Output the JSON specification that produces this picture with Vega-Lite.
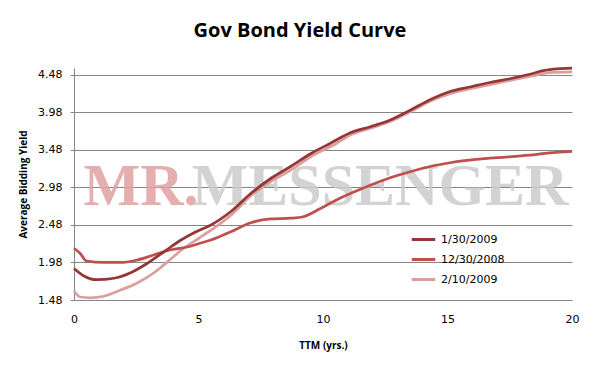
{
  "$schema": "https://vega.github.io/schema/vega-lite/v6.json",
  "width": 498,
  "height": 232,
  "autosize": {"type": "none"},
  "padding": {"left": 74, "top": 68, "right": 27, "bottom": 75},
  "background": "white",
  "config": {"view": {"stroke": null}},
  "title": {"text": "Gov Bond Yield Curve", "font": "Open Sans", "fontSize": 20, "fontWeight": "bold", "color": "black", "anchor": "middle", "dx": -23, "offset": 22},
  "datasets": {
    "watermark": [
      {"label": "MR.", "ttm": 2.69, "yield": 2.747},
      {"label": "MESSENGER", "ttm": 12.29, "yield": 2.747}
    ],
    "curves": [
      {"series": "2/10/2009", "ttm": 0, "yield": 1.60},
      {"series": "2/10/2009", "ttm": 0.25, "yield": 1.52},
      {"series": "2/10/2009", "ttm": 0.65, "yield": 1.51},
      {"series": "2/10/2009", "ttm": 1.2, "yield": 1.53},
      {"series": "2/10/2009", "ttm": 1.85, "yield": 1.61},
      {"series": "2/10/2009", "ttm": 2.5, "yield": 1.70},
      {"series": "2/10/2009", "ttm": 3.2, "yield": 1.84},
      {"series": "2/10/2009", "ttm": 3.9, "yield": 2.03},
      {"series": "2/10/2009", "ttm": 4.4, "yield": 2.17},
      {"series": "2/10/2009", "ttm": 5.0, "yield": 2.30},
      {"series": "2/10/2009", "ttm": 5.5, "yield": 2.41},
      {"series": "2/10/2009", "ttm": 6.3, "yield": 2.61},
      {"series": "2/10/2009", "ttm": 7.1, "yield": 2.87},
      {"series": "2/10/2009", "ttm": 7.9, "yield": 3.06},
      {"series": "2/10/2009", "ttm": 8.7, "yield": 3.21},
      {"series": "2/10/2009", "ttm": 9.5, "yield": 3.39},
      {"series": "2/10/2009", "ttm": 10.5, "yield": 3.56},
      {"series": "2/10/2009", "ttm": 11.1, "yield": 3.68},
      {"series": "2/10/2009", "ttm": 11.9, "yield": 3.77},
      {"series": "2/10/2009", "ttm": 12.7, "yield": 3.86},
      {"series": "2/10/2009", "ttm": 13.5, "yield": 3.99},
      {"series": "2/10/2009", "ttm": 14.3, "yield": 4.13},
      {"series": "2/10/2009", "ttm": 15.1, "yield": 4.23},
      {"series": "2/10/2009", "ttm": 16.7, "yield": 4.35},
      {"series": "2/10/2009", "ttm": 18.3, "yield": 4.46},
      {"series": "2/10/2009", "ttm": 19.1, "yield": 4.51},
      {"series": "2/10/2009", "ttm": 20, "yield": 4.52},
      {"series": "12/30/2008", "ttm": 0, "yield": 2.17},
      {"series": "12/30/2008", "ttm": 0.25, "yield": 2.10},
      {"series": "12/30/2008", "ttm": 0.5, "yield": 2.00},
      {"series": "12/30/2008", "ttm": 1.2, "yield": 1.98},
      {"series": "12/30/2008", "ttm": 1.85, "yield": 1.98},
      {"series": "12/30/2008", "ttm": 2.5, "yield": 2.01},
      {"series": "12/30/2008", "ttm": 3.2, "yield": 2.08},
      {"series": "12/30/2008", "ttm": 3.9, "yield": 2.15},
      {"series": "12/30/2008", "ttm": 4.6, "yield": 2.19},
      {"series": "12/30/2008", "ttm": 5.0, "yield": 2.23},
      {"series": "12/30/2008", "ttm": 5.5, "yield": 2.28},
      {"series": "12/30/2008", "ttm": 6.3, "yield": 2.39},
      {"series": "12/30/2008", "ttm": 7.1, "yield": 2.51},
      {"series": "12/30/2008", "ttm": 7.9, "yield": 2.56},
      {"series": "12/30/2008", "ttm": 8.7, "yield": 2.57},
      {"series": "12/30/2008", "ttm": 9.2, "yield": 2.59},
      {"series": "12/30/2008", "ttm": 9.9, "yield": 2.70},
      {"series": "12/30/2008", "ttm": 10.7, "yield": 2.84},
      {"series": "12/30/2008", "ttm": 11.6, "yield": 2.97},
      {"series": "12/30/2008", "ttm": 12.7, "yield": 3.11},
      {"series": "12/30/2008", "ttm": 13.5, "yield": 3.19},
      {"series": "12/30/2008", "ttm": 14.3, "yield": 3.26},
      {"series": "12/30/2008", "ttm": 15.1, "yield": 3.31},
      {"series": "12/30/2008", "ttm": 16.7, "yield": 3.37},
      {"series": "12/30/2008", "ttm": 18.3, "yield": 3.41},
      {"series": "12/30/2008", "ttm": 19.1, "yield": 3.44},
      {"series": "12/30/2008", "ttm": 20, "yield": 3.46},
      {"series": "1/30/2009", "ttm": 0, "yield": 1.90},
      {"series": "1/30/2009", "ttm": 0.4, "yield": 1.80},
      {"series": "1/30/2009", "ttm": 0.9, "yield": 1.75},
      {"series": "1/30/2009", "ttm": 1.6, "yield": 1.77},
      {"series": "1/30/2009", "ttm": 2.25, "yield": 1.84},
      {"series": "1/30/2009", "ttm": 2.9, "yield": 1.96},
      {"series": "1/30/2009", "ttm": 3.6, "yield": 2.12},
      {"series": "1/30/2009", "ttm": 4.25, "yield": 2.27},
      {"series": "1/30/2009", "ttm": 4.9, "yield": 2.39},
      {"series": "1/30/2009", "ttm": 5.5, "yield": 2.48},
      {"series": "1/30/2009", "ttm": 6.3, "yield": 2.66},
      {"series": "1/30/2009", "ttm": 7.1, "yield": 2.90},
      {"series": "1/30/2009", "ttm": 7.9, "yield": 3.10},
      {"series": "1/30/2009", "ttm": 8.7, "yield": 3.26},
      {"series": "1/30/2009", "ttm": 9.5, "yield": 3.43},
      {"series": "1/30/2009", "ttm": 10.3, "yield": 3.57},
      {"series": "1/30/2009", "ttm": 11.1, "yield": 3.71},
      {"series": "1/30/2009", "ttm": 11.9, "yield": 3.79},
      {"series": "1/30/2009", "ttm": 12.7, "yield": 3.88},
      {"series": "1/30/2009", "ttm": 13.5, "yield": 4.01},
      {"series": "1/30/2009", "ttm": 14.3, "yield": 4.15},
      {"series": "1/30/2009", "ttm": 15.1, "yield": 4.26},
      {"series": "1/30/2009", "ttm": 15.9, "yield": 4.32},
      {"series": "1/30/2009", "ttm": 16.7, "yield": 4.38},
      {"series": "1/30/2009", "ttm": 17.5, "yield": 4.43},
      {"series": "1/30/2009", "ttm": 18.3, "yield": 4.49},
      {"series": "1/30/2009", "ttm": 18.9, "yield": 4.54},
      {"series": "1/30/2009", "ttm": 19.4, "yield": 4.56},
      {"series": "1/30/2009", "ttm": 20, "yield": 4.57}
    ]
  },
  "encoding": {
    "x": {
      "field": "ttm", "type": "quantitative",
      "scale": {"domain": [0, 20], "nice": false, "zero": false},
      "axis": {
        "values": [0, 5, 10, 15, 20], "grid": false, "ticks": false, "labelFlush": false,
        "domainColor": "#868686", "labelFont": "DejaVu Sans", "labelFontSize": 11, "labelColor": "black", "labelPadding": 13,
        "title": "TTM (yrs.)", "titleFont": "Open Sans", "titleFontSize": 10, "titleFontWeight": "bold", "titleColor": "black", "titlePadding": 16
      }
    },
    "y": {
      "field": "yield", "type": "quantitative",
      "scale": {"domain": [1.48, 4.573], "nice": false, "zero": false},
      "axis": {
        "values": [1.48, 1.98, 2.48, 2.98, 3.48, 3.98, 4.48], "format": ".2f",
        "grid": true, "gridColor": "#868686", "gridWidth": 1,
        "domainColor": "#868686", "tickColor": "#868686", "tickSize": 4,
        "labelFont": "DejaVu Sans", "labelFontSize": 11, "labelColor": "black", "labelPadding": 8,
        "title": "Average Bidding Yield", "titleFont": "Open Sans", "titleFontSize": 10, "titleFontWeight": "bold", "titleColor": "black", "titlePadding": 9
      }
    }
  },
  "layer": [
    {
      "data": {"name": "watermark"},
      "mark": {"type": "text", "font": "Liberation Serif", "fontWeight": "bold", "fontSize": 60, "baseline": "alphabetic", "align": "center", "opacity": 0.85},
      "encoding": {
        "text": {"field": "label"},
        "color": {"field": "label", "type": "nominal", "scale": {"domain": ["MR.", "MESSENGER"], "range": ["#e0a2a1", "#cccccc"]}, "legend": null}
      }
    },
    {
      "data": {"name": "curves"},
      "mark": {"type": "line", "interpolate": "monotone", "strokeWidth": 2.75},
      "encoding": {
        "color": {
          "field": "series", "type": "nominal",
          "scale": {"domain": ["1/30/2009", "12/30/2008", "2/10/2009"], "range": ["#953735", "#c0504d", "#d9a09e"]},
          "legend": {
            "orient": "none", "legendX": 336, "legendY": 158, "title": null,
            "symbolType": "stroke", "symbolSize": 550, "symbolStrokeWidth": 3,
            "labelFont": "DejaVu Sans", "labelFontSize": 11, "labelColor": "black", "labelOffset": 4,
            "rowPadding": 0, "padding": 0
          }
        }
      }
    }
  ],
  "resolve": {"scale": {"color": "independent"}}
}
